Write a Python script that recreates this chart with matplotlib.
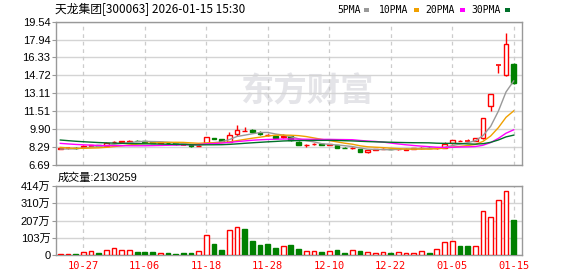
import matplotlib
matplotlib.use('Agg')
import matplotlib.pyplot as plt
from matplotlib.patches import Rectangle
import numpy as np

# Données
dates = ['10-22', '10-23', '10-24', '10-27', '10-28', '10-29', '10-30', '10-31',
         '11-03', '11-04', '11-05', '11-06', '11-07', '11-10', '11-11', '11-12',
         '11-13', '11-14', '11-17', '11-18', '11-19', '11-20', '11-21', '11-24',
         '11-25', '11-26', '11-27', '11-28', '12-01', '12-02', '12-03', '12-04',
         '12-05', '12-08', '12-09', '12-10', '12-11', '12-12', '12-15', '12-16',
         '12-17', '12-18', '12-19', '12-22', '12-23', '12-24', '12-25', '12-26',
         '12-29', '12-30', '12-31', '01-05', '01-06', '01-07', '01-08', '01-09',
         '01-12', '01-13', '01-14', '01-15']

opens = [8.12, 8.18, 8.25, 8.30, 8.40, 8.48, 8.42, 8.74, 8.76, 8.72,
         8.88, 8.82, 8.76, 8.70, 8.70, 8.62, 8.50, 8.48, 8.38, 8.69,
         9.08, 9.00, 8.78, 9.47, 9.75, 9.83, 9.53, 9.36, 9.29, 9.22,
         9.25, 8.78, 8.48, 8.55, 8.60, 8.50, 8.48, 8.24, 8.18, 8.12,
         7.88, 8.05, 8.12, 8.14, 8.08, 8.05, 8.14, 8.18, 8.24, 8.20,
         8.24, 8.63, 8.84, 8.86, 8.87, 9.08, 11.95, 15.68, 14.73, 15.75]
highs = [8.22, 8.25, 8.28, 8.45, 8.50, 8.52, 8.78, 8.85, 8.86, 8.90,
         8.95, 8.84, 8.78, 8.78, 8.72, 8.64, 8.58, 8.50, 8.45, 9.22,
         9.10, 9.02, 9.62, 10.28, 10.10, 9.90, 9.70, 9.50, 9.30, 9.45,
         9.28, 8.80, 8.53, 8.68, 8.62, 8.58, 8.50, 8.26, 8.28, 8.14,
         8.05, 8.14, 8.18, 8.16, 8.15, 8.17, 8.22, 8.28, 8.26, 8.26,
         8.78, 8.95, 8.95, 8.98, 9.10, 10.88, 13.06, 15.68, 18.50, 15.80]
lows = [8.10, 8.15, 8.15, 8.28, 8.35, 8.40, 8.40, 8.70, 8.72, 8.70,
        8.80, 8.74, 8.66, 8.66, 8.60, 8.52, 8.48, 8.33, 8.35, 8.65,
        8.98, 8.85, 8.75, 9.32, 9.72, 9.60, 9.35, 9.30, 9.12, 9.10,
        8.88, 8.48, 8.33, 8.45, 8.50, 8.45, 8.22, 8.18, 8.15, 7.86,
        7.79, 8.02, 8.10, 8.08, 8.05, 8.03, 8.12, 8.15, 8.18, 8.16,
        8.22, 8.60, 8.80, 8.82, 8.85, 9.05, 11.56, 14.91, 14.70, 13.95]
closes = [8.18, 8.20, 8.18, 8.40, 8.48, 8.42, 8.62, 8.78, 8.80, 8.85,
          8.84, 8.78, 8.70, 8.72, 8.63, 8.55, 8.52, 8.35, 8.42, 9.20,
          9.00, 8.87, 9.35, 9.83, 9.78, 9.62, 9.44, 9.38, 9.14, 9.29,
          8.90, 8.50, 8.52, 8.60, 8.52, 8.55, 8.24, 8.20, 8.22, 7.88,
          8.00, 8.12, 8.15, 8.10, 8.12, 8.15, 8.18, 8.24, 8.20, 8.24,
          8.54, 8.93, 8.88, 8.87, 9.07, 10.88, 13.06, 15.68, 17.51, 14.01]
# volume en 万
volumes = [8, 8, 8, 20, 24, 14, 32, 44, 32, 32,
           20, 20, 20, 12, 14, 8, 14, 14, 24, 121,
           68, 32, 151, 170, 159, 87, 62, 68, 44, 55,
           62, 38, 24, 24, 20, 24, 32, 14, 30, 24,
           18, 12, 18, 14, 18, 12, 12, 24, 14, 36,
           79, 85, 56, 56, 56, 262, 230, 329, 384, 213]
# clôtures avant la fenêtre (pour les moyennes mobiles)
prior_closes = [9.9, 9.8, 9.7, 9.6, 9.5, 9.5, 9.4, 9.4, 9.3, 9.2,
                9.2, 9.1, 9.1, 9.0, 9.0, 8.9, 8.9, 8.9, 8.9, 8.9,
                8.7, 8.5, 8.4, 8.3, 8.2, 8.15, 8.1, 8.1, 8.07]

price_ticks = [6.69, 8.29, 9.90, 11.51, 13.11, 14.72, 16.33, 17.94, 19.54]
price_labels = ['6.69', '8.29', '9.90', '11.51', '13.11', '14.72', '16.33', '17.94', '19.54']
vol_ticks = [0, 103.5, 207, 310.5, 414]
vol_labels = ['0', '103万', '207万', '310万', '414万']
shown_dates = ['10-27', '11-06', '11-18', '11-28', '12-10', '12-22', '01-05', '01-15']

ma_periods = [5, 10, 20, 30]
ma_names = ['5PMA', '10PMA', '20PMA', '30PMA']
ma_colors = ['#999999', '#f0a000', '#ff00ff', '#00702a']

RED = '#ff0000'
GREEN = '#008000'
W = 0.62

plt.rcParams['font.family'] = ['Liberation Sans', 'Noto Sans CJK SC']

fig = plt.figure(figsize=(5.78, 2.76), dpi=100)
ax = fig.add_axes([56 / 578, 1 - 165 / 276, 466 / 578, 143.3 / 276])
axv = fig.add_axes([56 / 578, 1 - 255 / 276, 466 / 578, 69 / 276])

x = np.arange(len(dates))
tick_pos = [dates.index(d) for d in shown_dates]

# --- Bougies ---
for i in x:
    o, h, l, c = opens[i], highs[i], lows[i], closes[i]
    up = c >= o
    col = RED if up else GREEN
    top, bot = max(o, c), min(o, c)
    ax.vlines(i, top, h, color=col, lw=1, zorder=3)
    ax.vlines(i, l, bot, color=col, lw=1, zorder=3)
    if top - bot < 0.02:
        ax.hlines(c, i - W / 2, i + W / 2, color=col, lw=1.2, zorder=3)
    else:
        ax.add_patch(Rectangle((i - W / 2, bot), W, top - bot,
                               facecolor='white' if up else col,
                               edgecolor=col, lw=1, zorder=3))

# --- Moyennes mobiles ---
full = np.array(prior_closes + closes)
for n, col in zip(ma_periods, ma_colors):
    ma = np.convolve(full, np.ones(n) / n, mode='valid')[-len(dates):]
    ax.plot(x, ma, color=col, lw=1, zorder=4)

# --- Volume ---
prev = [prior_closes[-1]] + closes[:-1]
for i in x:
    up = closes[i] >= prev[i]
    if up:
        axv.add_patch(Rectangle((i - W / 2, 0), W, volumes[i], facecolor='white',
                                edgecolor=RED, lw=1, zorder=3))
    else:
        axv.add_patch(Rectangle((i - W / 2, 0), W, volumes[i], facecolor=GREEN,
                                edgecolor=GREEN, lw=1, zorder=3))

# --- Axes ---
for a in (ax, axv):
    a.set_xlim(-0.56, 60.08)
    for s in a.spines.values():
        s.set_color('#999999')
        s.set_linewidth(1)
    a.yaxis.grid(True, color='#d4d4d4', lw=1)
    a.set_axisbelow(True)
    for p in tick_pos:
        a.axvline(p, color='#cccccc', lw=0.9, dashes=(3, 3), zorder=1)
    a.tick_params(axis='y', direction='out', length=3, color='#999999',
                  labelsize=8, pad=1)

ax.set_ylim(6.69, 19.54)
ax.set_yticks(price_ticks)
ax.set_yticklabels(price_labels)
ax.set_xticks([])

axv.set_ylim(0, 414)
axv.set_yticks(vol_ticks)
axv.set_yticklabels(vol_labels)
axv.set_xticks(tick_pos)
axv.set_xticklabels(shown_dates, color=RED, fontsize=7.5, family='DejaVu Sans Mono')
axv.tick_params(axis='x', length=0, pad=4)

# Filigrane
ax.text(0.539, 0.51, '东方财富', transform=ax.transAxes, ha='center', va='center',
        fontsize=24, fontweight='bold', color='#e4e4e8', family='Noto Sans CJK SC',
        zorder=0)

# Titre et légende
fig.text(55 / 578, 1 - 10 / 276, '天龙集团[300063] 2026-01-15 15:30', fontsize=8.5,
         va='center', ha='left', family=['Noto Sans CJK SC'])
leg_x = [337, 379, 425, 471]
sq_x = [364, 414, 460, 505]
for name, col, tx, sx in zip(ma_names, ma_colors, leg_x, sq_x):
    fig.text(tx / 578, 1 - 10 / 276, name, fontsize=7, va='center', ha='left',
             family='DejaVu Sans Mono')
    fig.patches.append(Rectangle((sx / 578, 1 - 12 / 276), 5 / 578, 4 / 276,
                                 transform=fig.transFigure, facecolor=col,
                                 edgecolor='none'))

fig.text(58 / 578, 1 - 178 / 276, '成交量:2130259', fontsize=8, va='center', ha='left')

fig.savefig('out.png', dpi=100)
